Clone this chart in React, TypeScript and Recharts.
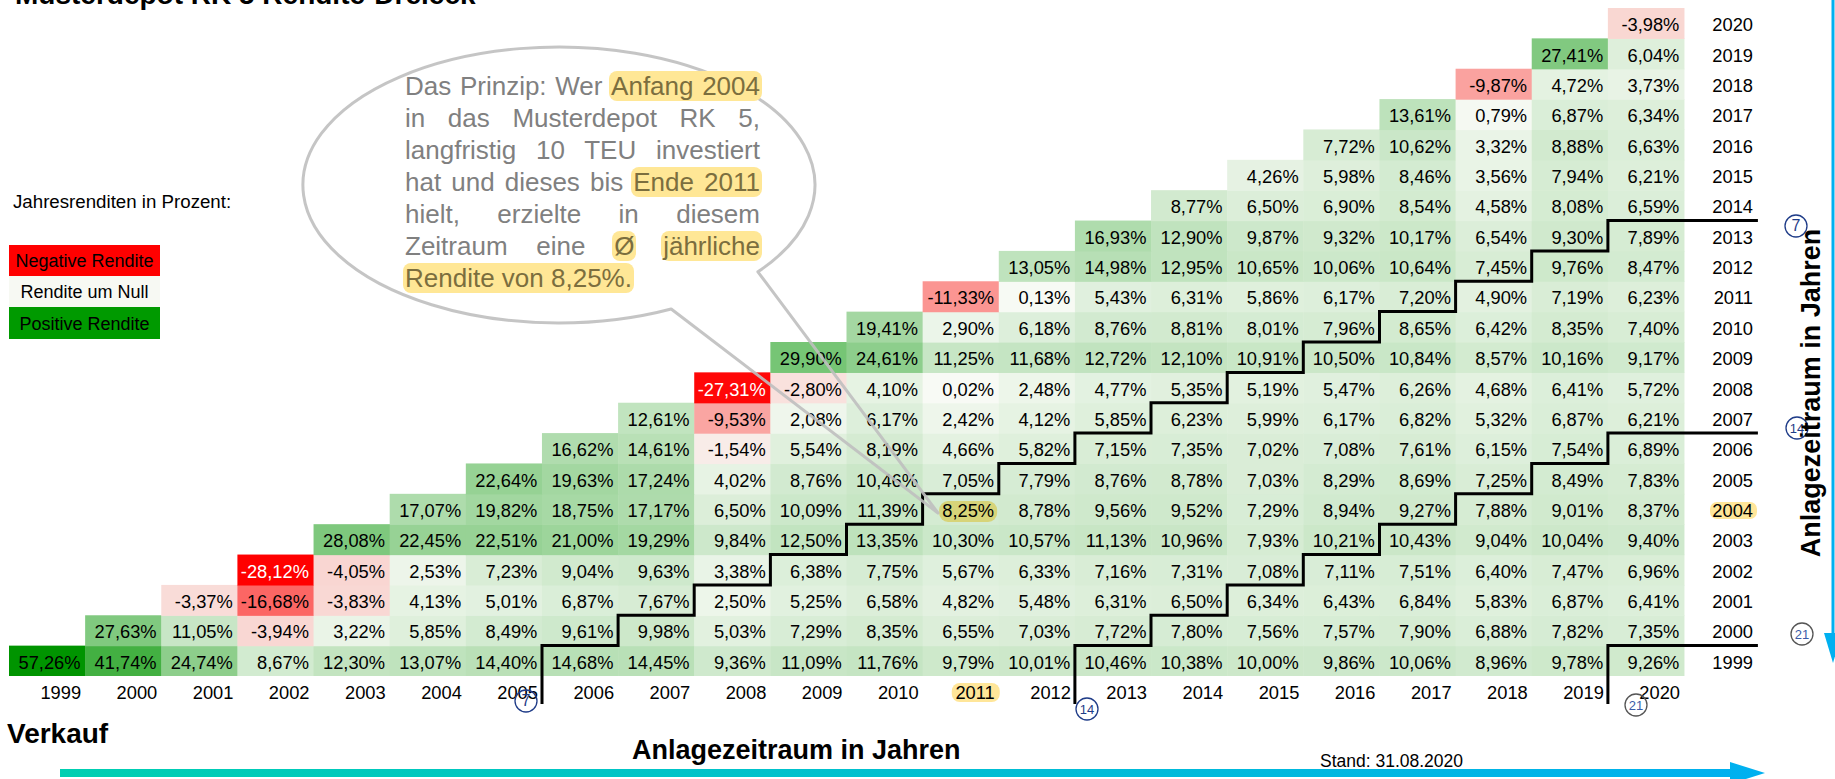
import React from 'react';
import { BarChart, Bar, XAxis, YAxis } from 'recharts';

// ---------- data ----------
const years = ['1999', '2000', '2001', '2002', '2003', '2004', '2005', '2006', '2007', '2008', '2009',
  '2010', '2011', '2012', '2013', '2014', '2015', '2016', '2017', '2018', '2019', '2020'];

// annualised returns (%) by buy year, for sell years buyYear..2020
const ret1999 = [57.26, 41.74, 24.74, 8.67, 12.30, 13.07, 14.40, 14.68, 14.45, 9.36, 11.09, 11.76, 9.79, 10.01, 10.46, 10.38, 10.00, 9.86, 10.06, 8.96, 9.78, 9.26];
const ret2000 = [27.63, 11.05, -3.94, 3.22, 5.85, 8.49, 9.61, 9.98, 5.03, 7.29, 8.35, 6.55, 7.03, 7.72, 7.80, 7.56, 7.57, 7.90, 6.88, 7.82, 7.35];
const ret2001 = [-3.37, -16.68, -3.83, 4.13, 5.01, 6.87, 7.67, 2.50, 5.25, 6.58, 4.82, 5.48, 6.31, 6.50, 6.34, 6.43, 6.84, 5.83, 6.87, 6.41];
const ret2002 = [-28.12, -4.05, 2.53, 7.23, 9.04, 9.63, 3.38, 6.38, 7.75, 5.67, 6.33, 7.16, 7.31, 7.08, 7.11, 7.51, 6.40, 7.47, 6.96];
const ret2003 = [28.08, 22.45, 22.51, 21.00, 19.29, 9.84, 12.50, 13.35, 10.30, 10.57, 11.13, 10.96, 7.93, 10.21, 10.43, 9.04, 10.04, 9.40];
const ret2004 = [17.07, 19.82, 18.75, 17.17, 6.50, 10.09, 11.39, 8.25, 8.78, 9.56, 9.52, 7.29, 8.94, 9.27, 7.88, 9.01, 8.37];
const ret2005 = [22.64, 19.63, 17.24, 4.02, 8.76, 10.46, 7.05, 7.79, 8.76, 8.78, 7.03, 8.29, 8.69, 7.25, 8.49, 7.83];
const ret2006 = [16.62, 14.61, -1.54, 5.54, 8.19, 4.66, 5.82, 7.15, 7.35, 7.02, 7.08, 7.61, 6.15, 7.54, 6.89];
const ret2007 = [12.61, -9.53, 2.08, 6.17, 2.42, 4.12, 5.85, 6.23, 5.99, 6.17, 6.82, 5.32, 6.87, 6.21];
const ret2008 = [-27.31, -2.80, 4.10, 0.02, 2.48, 4.77, 5.35, 5.19, 5.47, 6.26, 4.68, 6.41, 5.72];
const ret2009 = [29.90, 24.61, 11.25, 11.68, 12.72, 12.10, 10.91, 10.50, 10.84, 8.57, 10.16, 9.17];
const ret2010 = [19.41, 2.90, 6.18, 8.76, 8.81, 8.01, 7.96, 8.65, 6.42, 8.35, 7.40];
const ret2011 = [-11.33, 0.13, 5.43, 6.31, 5.86, 6.17, 7.20, 4.90, 7.19, 6.23];
const ret2012 = [13.05, 14.98, 12.95, 10.65, 10.06, 10.64, 7.45, 9.76, 8.47];
const ret2013 = [16.93, 12.90, 9.87, 9.32, 10.17, 6.54, 9.30, 7.89];
const ret2014 = [8.77, 6.50, 6.90, 8.54, 4.58, 8.08, 6.59];
const ret2015 = [4.26, 5.98, 8.46, 3.56, 7.94, 6.21];
const ret2016 = [7.72, 10.62, 3.32, 8.88, 6.63];
const ret2017 = [13.61, 0.79, 6.87, 6.34];
const ret2018 = [-9.87, 4.72, 3.73];
const ret2019 = [27.41, 6.04];
const ret2020 = [-3.98];

const holdingPeriods = [7, 14, 21];
const highlightBuy = '2004';
const highlightSell = '2011';

const rows = [ret1999, ret2000, ret2001, ret2002, ret2003, ret2004, ret2005, ret2006, ret2007, ret2008, ret2009,
  ret2010, ret2011, ret2012, ret2013, ret2014, ret2015, ret2016, ret2017, ret2018, ret2019, ret2020];

const tableData = years.map((s, si) => {
  const o: any = { sell: s };
  rows.forEach((arr, bi) => {
    if (si >= bi) {
      o[`h${bi}`] = 1;
      o[`v${bi}`] = arr[si - bi];
    }
  });
  return o;
});

// ---------- layout / style ----------
const W = 1835, H = 779;
const M = { top: 8, right: 81, bottom: 73, left: 9 };
const X_AXIS_H = 30, Y_AXIS_W = 70;
const PLOT_W = W - M.left - M.right - Y_AXIS_W;
const PLOT_BOTTOM = H - M.bottom - X_AXIS_H;
const CW = PLOT_W / 22;
const RH = (PLOT_BOTTOM - M.top) / 22;
const gx = (n: number) => M.left + n * CW;
const gy = (u: number) => PLOT_BOTTOM - u * RH;
const FONT = '"Liberation Sans", Arial, sans-serif';
const FS = 18.3;

const allVals = rows.flat();
const minV = Math.min(...allVals);
const maxV = Math.max(...allVals);
const NEG = [255, 0, 0];
const MID = [248, 250, 245];
const POS = [0, 148, 0];
function cellColor(v: number) {
  const c = v < 0 ? NEG : POS;
  const t = v < 0 ? v / minV : v / maxV;
  const m = MID.map((m0, i) => Math.round(m0 + (c[i] - m0) * t));
  return `rgb(${m[0]},${m[1]},${m[2]})`;
}
const fmt = (v: number) => v.toFixed(2).replace('.', ',') + '%';

const makeShape = (bi: number) => (p: any) => {
  const v = p.payload ? p.payload[`v${bi}`] : undefined;
  if (v === undefined || !(p.height > 0)) return <g />;
  const tx = p.x + p.width - 4.5;
  const ty = p.y + p.height / 2 + 8;
  const hl = years[bi] === highlightBuy && p.payload.sell === highlightSell;
  return (
    <g>
      <rect x={p.x} y={p.y} width={p.width + 0.6} height={p.height + 0.6} fill={cellColor(v)} />
      {hl && <rect x={tx - 55} y={ty - 16} width={58} height={21} rx={9} fill="#D7D479" />}
      <text x={tx} y={ty} textAnchor="end" fontSize={FS} fontFamily={FONT} fill={v < -20 ? '#ffffff' : '#000000'}>
        {fmt(v)}
      </text>
    </g>
  );
};

const BottomTick = (p: any) => {
  const label = p.payload.value;
  const right = p.x + CW / 2 - 4;
  const base = p.y + 23;
  return (
    <g>
      {label === highlightSell && <rect x={right - 43} y={base - 16} width={48} height={19} rx={8} fill="#FFE699" />}
      <text x={right} y={base} textAnchor="end" fontSize={FS} fontFamily={FONT} fill="#000">{label}</text>
    </g>
  );
};

const RowTick = (p: any) => {
  const label = years[Math.floor(p.payload.value)];
  const right = p.x + 69;
  const base = p.y + 8;
  return (
    <g>
      {label === highlightBuy && <rect x={right - 43} y={base - 15} width={47} height={17} rx={7} fill="#FFE699" />}
      <text x={right} y={base} textAnchor="end" fontSize={FS} fontFamily={FONT} fill="#000">{label}</text>
    </g>
  );
};

// staircase boundaries (grid units: x = column edge, y = row edge counted from the bottom)
const EXT_Y = -0.92;
const EXT_X = 22.97;
function stairPoints(len: number) {
  const pts: [number, number][] = [[len, EXT_Y]];
  for (let i = 0; i <= 21 - len; i++) {
    const x = len + i;
    pts.push([x, i + 1]);
    pts.push([i === 21 - len ? EXT_X : x + 1, i + 1]);
  }
  return pts.map(([a, b]) => `${gx(a).toFixed(1)},${gy(b).toFixed(1)}`).join(' ');
}

const markers = [
  { label: '7', x: 526, y: 701, gray: false },
  { label: '14', x: 1087, y: 709, gray: false },
  { label: '21', x: 1636, y: 705, gray: true },
  { label: '7', x: 1796, y: 226, gray: false },
  { label: '14', x: 1797, y: 428, gray: false },
  { label: '21', x: 1802, y: 634, gray: true },
];

const HL: React.CSSProperties = {
  background: '#FFE796',
  borderRadius: 8,
  color: '#7B6E3E',
  padding: '0 2px',
  margin: '0 -2px',
};
const J: React.CSSProperties = { textAlign: 'justify', textAlignLast: 'justify', whiteSpace: 'nowrap' };

// speech bubble geometry
const BX = 559, BY = 185, BRX = 256, BRY = 138;
const ang = (d: number) => [BX + BRX * Math.cos((d * Math.PI) / 180), BY + BRY * Math.sin((d * Math.PI) / 180)];
const bA = ang(64);
const bB = ang(39);
const bubblePath = `M${bB[0].toFixed(1)},${bB[1].toFixed(1)} A${BRX},${BRY} 0 1 0 ${bA[0].toFixed(1)},${bA[1].toFixed(1)} L938,513 Z`;

export default function App() {
  return (
    <div style={{ position: 'absolute', left: 0, top: 0, width: W, height: H, overflow: 'hidden', background: '#fff' }}>
      <BarChart width={W} height={H} data={tableData} margin={M} barCategoryGap={0} barGap={0}>
        <XAxis dataKey="sell" type="category" height={X_AXIS_H} interval={0}
          tickLine={false} axisLine={false} tickSize={0} tickMargin={0} tick={BottomTick} />
        <YAxis orientation="right" type="number" domain={[0, 22]} width={Y_AXIS_W}
          ticks={years.map((_, i) => i + 0.5)} interval={0} tickLine={false} axisLine={false}
          tickSize={0} tickMargin={0} tick={RowTick} allowDataOverflow />
        {rows.map((_, bi) => (
          <Bar key={bi} dataKey={`h${bi}`} stackId="s"
            isAnimationActive={false} shape={makeShape(bi)} />
        ))}
      </BarChart>

      <svg width={W} height={H} style={{ position: 'absolute', left: 0, top: 0, pointerEvents: 'none', fontFamily: FONT }}>
        <defs>
          <linearGradient id="arrowGrad" x1="0" x2="1" y1="0" y2="0">
            <stop offset="0" stopColor="#00CFB1" />
            <stop offset="1" stopColor="#00B0F0" />
          </linearGradient>
        </defs>
        <text x={15} y={4} fontSize={28} fontWeight="bold" fill="#000">Musterdepot RK 5 Rendite-Dreieck</text>

        <text x={13} y={208} fontSize={18.7} fill="#000">Jahresrenditen in Prozent:</text>
        <rect x={9} y={245} width={151} height={31} fill="#FF0000" />
        <text x={84.5} y={267} fontSize={18} textAnchor="middle" fill="#000">Negative Rendite</text>
        <rect x={9} y={276} width={151} height={31} fill="#F7F9F3" />
        <text x={84.5} y={298} fontSize={18} textAnchor="middle" fill="#000">Rendite um Null</text>
        <rect x={9} y={307} width={151} height={32} fill="#009A00" />
        <text x={84.5} y={329.5} fontSize={18} textAnchor="middle" fill="#000">Positive Rendite</text>

        {holdingPeriods.map((h) => (
          <polyline key={h} points={stairPoints(h)} fill="none" stroke="#000" strokeWidth={3}
            strokeLinejoin="miter" strokeLinecap="butt" />
        ))}

        {markers.map((m, i) => (
          <g key={i}>
            <circle cx={m.x} cy={m.y} r={11} fill="none" stroke={m.gray ? '#555' : '#1F3C88'} strokeWidth={1.3} />
            <text x={m.x} y={m.y + 5} textAnchor="middle" fontSize={m.label.length > 1 ? 13 : 16}
              fill={m.gray ? '#3A5BA8' : '#1F3C88'}>{m.label}</text>
          </g>
        ))}

        <text x={7} y={743} fontSize={28} fontWeight="bold" fill="#000">Verkauf</text>
        <text x={632} y={759} fontSize={27} fontWeight="bold" fill="#000">Anlagezeitraum in Jahren</text>
        <text x={1320} y={767} fontSize={17.5} fill="#000">Stand: 31.08.2020</text>

        <path d="M60,769 L1730,769 L1730,762 L1765,773 L1730,784 L1730,777 L60,777 Z" fill="url(#arrowGrad)" />
        <rect x={1831.5} y={0} width={3} height={636} fill="#00B0F0" />
        <path d="M1824,633 L1842,633 L1833,663 Z" fill="#00B0F0" />
        <text transform="translate(1820,393) rotate(-90)" textAnchor="middle" fontSize={27} fontWeight="bold" fill="#000">
          Anlagezeitraum in Jahren
        </text>

        <path d={bubblePath} fill="none" stroke="#BFBFBF" strokeWidth={3} strokeLinejoin="round" strokeOpacity={0.9} />
      </svg>

      <div style={{ position: 'absolute', left: 405, top: 69.5, width: 355, fontFamily: FONT, fontSize: 26,
        lineHeight: '32px', color: '#808080' }}>
        <div style={J}>Das Prinzip: Wer <span style={HL}>Anfang 2004</span></div>
        <div style={J}>in das Musterdepot RK 5,</div>
        <div style={J}>langfristig 10 TEU investiert</div>
        <div style={J}>hat und dieses bis <span style={HL}>Ende 2011</span></div>
        <div style={J}>hielt, erzielte in diesem</div>
        <div style={J}>Zeitraum eine <span style={HL}>Ø</span> <span style={HL}>jährliche</span></div>
        <div style={{ whiteSpace: 'nowrap' }}><span style={HL}>Rendite von 8,25%.</span></div>
      </div>
    </div>
  );
}
